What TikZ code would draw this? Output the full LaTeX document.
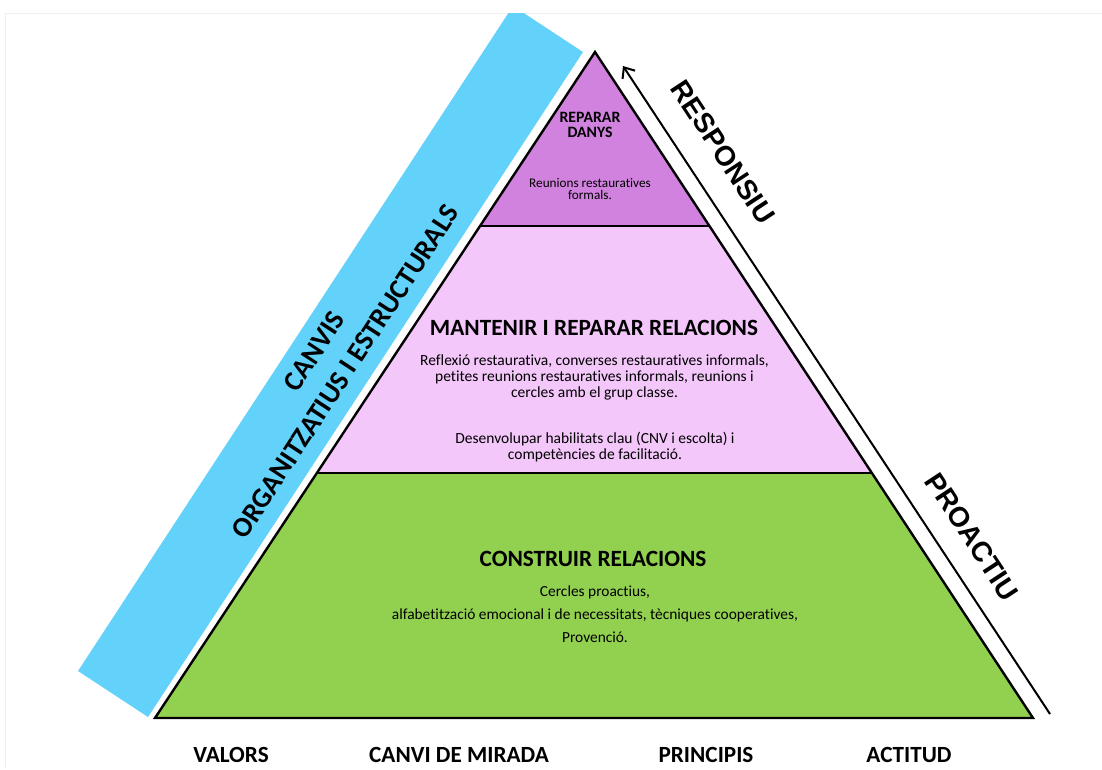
\documentclass[tikz,border=0pt]{standalone}
\usepackage{fontspec}
\setmainfont{Carlito}[Ligatures=CommonOff]
\newfontfamily\arialfont{Liberation Sans}
\usetikzlibrary{calc,arrows.meta}
\definecolor{topcolor}{RGB}{209,130,222}
\definecolor{midcolor}{RGB}{244,199,250}
\definecolor{basecolor}{RGB}{146,208,80}
\definecolor{bandcolor}{RGB}{99,210,250}
\tikzset{
  level/.style={draw=black,line width=2.4pt,line join=miter},
  leveltitle/.style={font=\bfseries\fontsize{23.3}{26}\selectfont,align=center},
  leveltext/.style={font=\fontsize{15.5}{16}\selectfont,align=center},
  basename/.style={font=\bfseries\fontsize{23.2}{26}\selectfont},
  sidename/.style={font=\arialfont\bfseries\fontsize{28}{30}\selectfont}
}

\begin{document}
\begin{tikzpicture}[x=1pt,y=-1pt]
\useasboundingbox (0,0) rectangle (1102,769);
\draw[gray!12,line width=1pt] (5,769) -- (5,13) -- (1102,13);
\begin{scope}
\clip (0,13) rectangle (1102,769);
\fill[bandcolor] (148,717) -- (583,52) -- (513,6) -- (78,671) -- cycle;
\end{scope}
\node[font=\bfseries\fontsize{28.2}{37}\selectfont,align=center,rotate=56.8] (canvis) at (329.7,361.4) {CANVIS\\ORGANITZATIUS I ESTRUCTURALS};

\coordinate (apex) at (595,52);
\coordinate (bl) at (155,718);
\coordinate (br) at (1033,718);
\coordinate (l1) at ($(apex)!0.2613!(bl)$);
\coordinate (r1) at ($(apex)!0.2613!(br)$);
\coordinate (l2) at ($(apex)!0.6321!(bl)$);
\coordinate (r2) at ($(apex)!0.6321!(br)$);
\fill[topcolor] (apex) -- (l1) -- (r1) -- cycle;
\fill[midcolor] (l1) -- (l2) -- (r2) -- (r1) -- cycle;
\fill[basecolor] (l2) -- (bl) -- (br) -- (r2) -- cycle;
\draw[level] (apex) -- (bl) -- (br) -- cycle;
\draw[level] (l1) -- (r1) (l2) -- (r2);

\node[font=\bfseries\fontsize{15.8}{15}\selectfont,align=center] (reparar) at (590,125) {REPARAR\\DANYS};
\node[font=\fontsize{13.2}{12.5}\selectfont,align=center] (reunions) at (590,189) {Reunions restauratives\\formals.};

\node[leveltitle] (mantenir) at (594,328) {MANTENIR I REPARAR RELACIONS};
\node[leveltext] (reflexio) at (594.5,377) {Reflexió restaurativa, converses restauratives informals,\\petites reunions restauratives informals, reunions i\\cercles amb el grup classe.};
\node[leveltext] (habilitats) at (595,447.5) {Desenvolupar habilitats clau (CNV i escolta) i\\competències de facilitació.};

\node[leveltitle] (construir) at (593,559) {CONSTRUIR RELACIONS};
\node[leveltext,font=\fontsize{15.4}{23}\selectfont] (cercles) at (595,614) {Cercles proactius,\\alfabetització emocional i de necessitats, tècniques cooperatives,\\Provenció.};

\coordinate (arrowfoot) at (1050,714);
\coordinate (arrowtip) at (623,66);
\draw[line width=2pt,-{Straight Barb[length=9pt,width=15pt]}] (arrowfoot) -- (arrowtip);
\node[sidename,rotate=-56.7] (responsiu) at (723,152) {RESPONSIU};
\node[sidename,rotate=-56.7] (proactiu) at (972,537) {PROACTIU};

\node[basename] (valors) at (231,755) {VALORS};
\node[basename] (mirada) at (459,755) {CANVI DE MIRADA};
\node[basename] (principis) at (706,755) {PRINCIPIS};
\node[basename] (actitud) at (909,755) {ACTITUD};
\end{tikzpicture}
\end{document}
